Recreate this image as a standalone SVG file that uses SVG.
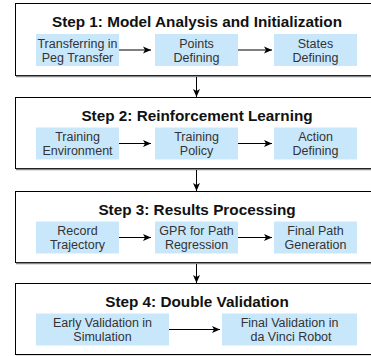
<svg xmlns="http://www.w3.org/2000/svg" width="371" height="356" viewBox="0 0 371 356">
<defs>
<style>
.step{fill:#fff;stroke:#000;stroke-width:1}
.shadow{stroke:#888;stroke-width:1.5;fill:none}
.title{font-family:"Liberation Sans",Arial,sans-serif;font-weight:bold;font-size:15.3px;fill:#111;text-anchor:middle}
.box{fill:#c9e7fb;stroke:none}
.lbl{font-family:"Liberation Sans",Arial,sans-serif;font-size:12.5px;fill:#333;text-anchor:middle}
.conn{stroke:#000;stroke-width:1;fill:none}
</style>
<marker id="ah" viewBox="0 0 8 8" refX="8" refY="4" markerWidth="8" markerHeight="8" markerUnits="userSpaceOnUse" orient="auto">
<path d="M0,0.5 L8,4 L0,7.5 L2,4 Z" fill="#000"/>
</marker>
</defs>
<rect width="371" height="356" fill="#fff"/>

<g id="step1">
<rect class="step" x="15.5" y="3.5" width="370" height="72"/>
<line class="shadow" x1="16" y1="76.5" x2="371" y2="76.5"/>
<text class="title" x="197" y="27">Step 1: Model Analysis and Initialization</text>
</g>
<g id="s1a"><rect class="box" x="36" y="34" width="83" height="32"/><text class="lbl" x="77.5" y="47.5">Transferring in</text><text class="lbl" x="77.5" y="61.5">Peg Transfer</text></g>
<g id="s1b"><rect class="box" x="155" y="34" width="83" height="32"/><text class="lbl" x="196.5" y="47.5">Points</text><text class="lbl" x="196.5" y="61.5">Defining</text></g>
<g id="s1c"><rect class="box" x="274" y="34" width="83" height="32"/><text class="lbl" x="315.5" y="47.5">States</text><text class="lbl" x="315.5" y="61.5">Defining</text></g>

<g id="step2">
<rect class="step" x="15.5" y="97.5" width="370" height="71"/>
<line class="shadow" x1="16" y1="169.5" x2="371" y2="169.5"/>
<text class="title" x="197" y="120.5">Step 2: Reinforcement Learning</text>
</g>
<g id="s2a"><rect class="box" x="36" y="127.5" width="83" height="32"/><text class="lbl" x="77.5" y="141">Training</text><text class="lbl" x="77.5" y="155">Environment</text></g>
<g id="s2b"><rect class="box" x="155" y="127.5" width="83" height="32"/><text class="lbl" x="196.5" y="141">Training</text><text class="lbl" x="196.5" y="155">Policy</text></g>
<g id="s2c"><rect class="box" x="274" y="127.5" width="83" height="32"/><text class="lbl" x="315.5" y="141">Action</text><text class="lbl" x="315.5" y="155">Defining</text></g>

<g id="step3">
<rect class="step" x="15.5" y="191.5" width="370" height="71"/>
<line class="shadow" x1="16" y1="263.5" x2="371" y2="263.5"/>
<text class="title" x="197" y="214.5">Step 3: Results Processing</text>
</g>
<g id="s3a"><rect class="box" x="36" y="221.5" width="83" height="32"/><text class="lbl" x="77.5" y="235">Record</text><text class="lbl" x="77.5" y="249">Trajectory</text></g>
<g id="s3b"><rect class="box" x="155" y="221.5" width="83" height="32"/><text class="lbl" x="196.5" y="235">GPR for Path</text><text class="lbl" x="196.5" y="249">Regression</text></g>
<g id="s3c"><rect class="box" x="274" y="221.5" width="83" height="32"/><text class="lbl" x="315.5" y="235">Final Path</text><text class="lbl" x="315.5" y="249">Generation</text></g>

<g id="step4">
<rect class="step" x="15.5" y="283.5" width="370" height="71"/>
<line x1="16" y1="355.5" x2="371" y2="355.5" stroke="#ddd" stroke-width="1"/>
<text class="title" x="197" y="306.5">Step 4: Double Validation</text>
</g>
<g id="s4a"><rect class="box" x="36" y="313.5" width="133" height="32"/><text class="lbl" x="102.5" y="327">Early Validation in</text><text class="lbl" x="102.5" y="341">Simulation</text></g>
<g id="s4b"><rect class="box" x="222" y="313.5" width="135" height="32"/><text class="lbl" x="289.5" y="327">Final Validation in</text><text class="lbl" x="291" y="341">da Vinci Robot</text></g>

<g id="connectors">
<line class="conn" x1="119" y1="50" x2="151" y2="50" marker-end="url(#ah)"/>
<line class="conn" x1="238" y1="50" x2="272" y2="50" marker-end="url(#ah)"/>
<line class="conn" x1="119" y1="143.5" x2="151" y2="143.5" marker-end="url(#ah)"/>
<line class="conn" x1="238" y1="143.5" x2="272" y2="143.5" marker-end="url(#ah)"/>
<line class="conn" x1="119" y1="237.5" x2="151" y2="237.5" marker-end="url(#ah)"/>
<line class="conn" x1="238" y1="237.5" x2="272" y2="237.5" marker-end="url(#ah)"/>
<line class="conn" x1="169" y1="329.5" x2="220" y2="329.5" marker-end="url(#ah)"/>
<line class="conn" x1="196.5" y1="77" x2="196.5" y2="97" marker-end="url(#ah)"/>
<line class="conn" x1="196.5" y1="170" x2="196.5" y2="191" marker-end="url(#ah)"/>
<line class="conn" x1="196.5" y1="264" x2="196.5" y2="283" marker-end="url(#ah)"/>
</g>
</svg>
